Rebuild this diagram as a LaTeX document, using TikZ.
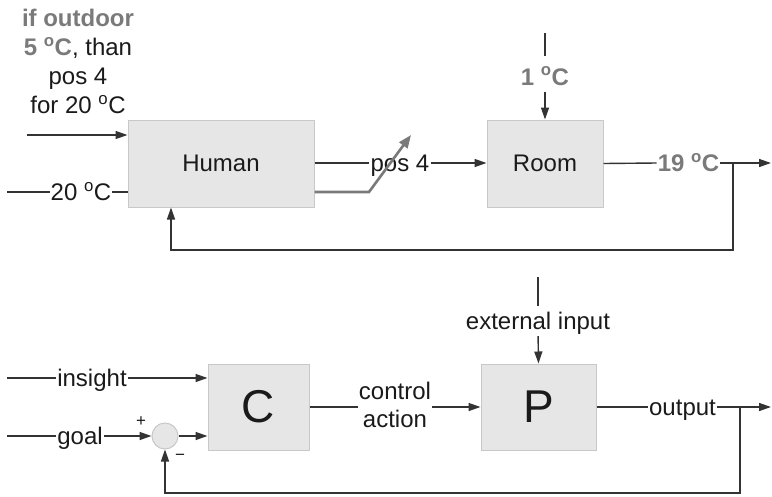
\documentclass[tikz,border=0pt]{standalone}
\usepackage{fontspec}
\setmainfont{Liberation Sans}
\usetikzlibrary{arrows.meta}

\definecolor{boxfill}{HTML}{E6E6E6}
\definecolor{boxedge}{HTML}{C8C8C8}
\definecolor{wirecol}{HTML}{333333}
\definecolor{hint}{HTML}{7A7A7A}
\definecolor{inkcol}{HTML}{1A1A1A}

\newcommand{\degC}{\textsuperscript{o}C}

\begin{document}
\begin{tikzpicture}[x=1pt,y=-1pt,
  block/.style={draw=boxedge, fill=boxfill, line width=1pt, inner sep=0pt, text=inkcol,
                font=\fontsize{24}{29}\selectfont},
  bigletter/.style={font=\fontsize{46}{50}\selectfont},
  lbl/.style={inner xsep=1pt, inner ysep=1pt, text height=17.2pt, text depth=0pt,
              text=inkcol, font=\fontsize{24}{29}\selectfont},
  hintlbl/.style={lbl, text=hint, font=\fontsize{24}{29}\selectfont\bfseries},
  wire/.style={draw=wirecol, line width=1.4pt},
  arr/.style={wire, -{Triangle[length=12pt,width=8pt]}},
  knob/.style={draw=hint, line width=2.6pt, -{Triangle[length=13pt,width=10pt]}},
  sign/.style={inner sep=0pt, text=inkcol, font=\fontsize{17}{18}\selectfont}]

\useasboundingbox (0,0) rectangle (772,496);

% ---------- upper loop: human thermostat ----------
\node[block, minimum width=186pt, minimum height=87pt] (human) at (221,163.5) {Human};
\node[block, minimum width=116pt, minimum height=87pt] (room) at (545,163.5) {Room};

\node[anchor=north, align=center, inner sep=0pt, text=inkcol,
      font=\fontsize{24}{29}\selectfont] (rule) at (78,8.5)
  {\textcolor{hint}{\bfseries if outdoor}\\
   \textcolor{hint}{\bfseries 5 \degC}, than\\
   pos 4\\
   for 20 \degC};

\coordinate (rin) at (27,135);
\draw[arr] (rin) -- (rin -| human.west);

\coordinate (sp0) at (7,192);
\node[lbl] (setp) at (81,192) {20 \degC};
\draw[wire] (sp0) -- (setp.west);
\draw[wire] (setp.east) -- (setp.east -| human.west);

% valve setting
\node[lbl] (pos) at (400,163) {pos 4};
\draw[wire] (human.east |- pos) -- (pos.west);
\draw[arr] (pos.east) -- (pos.east -| room.west);
\coordinate (kbend) at (369,192);
\coordinate (ktip) at (411,135);
\draw[knob] (human.east |- kbend) -- (kbend) -- (ktip);

% outdoor disturbance
\coordinate (dtop) at (545,33);
\node[hintlbl] (dist) at (545,76.4) {1 \degC};
\draw[wire, shorten >=10.8pt] (dtop) -- (dist.north);
\draw[arr, shorten <=6pt] (dist.south) -- (room.north);

% room temperature and feedback
\node[hintlbl] (temp) at (688.5,163) {19 \degC};
\coordinate (tend) at (771,163);
\coordinate (tbr) at (733,163);
\coordinate (tfb) at (171,250);
\draw[wire] (room.east) -- (temp.west);
\draw[arr] (temp.east) -- (tend);
\draw[arr] (tbr) |- (tfb) -- (tfb |- human.south);

% ---------- lower loop: generic control loop ----------
\node[block, bigletter, minimum width=101pt, minimum height=86pt] (ctrl) at (258.5,407) {C};
\node[block, bigletter, minimum width=115pt, minimum height=86pt] (plant) at (538.5,407) {P};
\node[circle, draw=boxedge, fill=boxfill, line width=1pt, minimum size=26pt, inner sep=0pt]
  (sum) at (165,436) {};

\coordinate (ins0) at (7,378);
\node[lbl] (insight) at (92,378) {insight};
\draw[wire] (ins0) -- (insight.west);
\draw[arr] (insight.east) -- (insight.east -| ctrl.west);

\coordinate (goal0) at (7,436);
\node[lbl] (goal) at (80,436) {goal};
\draw[wire] (goal0) -- (goal.west);
\draw[arr] (goal.east) -- (sum.west);
\draw[arr] (sum.east) -- (sum.east -| ctrl.west);
\node[sign] (plus) at (141,422) {+};
\node[sign] (minus) at (180,457) {\textminus};

\node[align=center, inner xsep=1pt, inner ysep=0pt, text=inkcol,
      font=\fontsize{24}{28}\selectfont] (act) at (395,405) {control\\action};
\draw[wire] (ctrl.east) -- (ctrl.east -| act.west);
\draw[arr] (ctrl.east -| act.east) -- (plant.west);

\coordinate (ext0) at (538,277);
\node[lbl] (ext) at (538,320.4) {external input};
\draw[wire, shorten >=4.8pt] (ext0) -- (ext.north);
\draw[arr, shorten <=6pt] (ext.south) -- (plant.north);

\node[lbl] (out) at (682.5,407) {output};
\coordinate (oend) at (771,407);
\coordinate (obr) at (740,407);
\coordinate (obot) at (0,493);
\draw[wire] (plant.east) -- (out.west);
\draw[arr] (out.east) -- (oend);
\draw[arr] (obr) -- (obr |- obot) -| (sum.south);

\end{tikzpicture}
\end{document}
